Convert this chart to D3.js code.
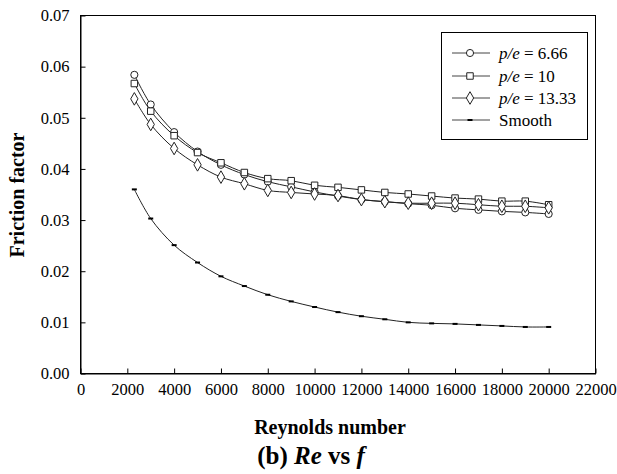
<!DOCTYPE html>
<html><head><meta charset="utf-8">
<script src="https://cdn.jsdelivr.net/npm/d3@7/dist/d3.min.js"></script>
<style>body{margin:0;background:#fff}svg{display:block}svg text{font-family:"Liberation Serif","Times New Roman",Times,serif !important;fill:#000}</style>
</head><body><svg id="c" width="617" height="474"></svg>
<script>
const reynolds = [2300,3000,4000,5000,6000,7000,8000,9000,10000,11000,12000,13000,14000,15000,16000,17000,18000,19000,20000];
const pe666  = [0.0584,0.0526,0.0472,0.0434,0.0408,0.0389,0.0375,0.0365,0.0355,0.0347,0.0340,0.0336,0.0332,0.0329,0.0323,0.0320,0.0317,0.0315,0.0312];
const pe10   = [0.0567,0.0513,0.0465,0.0432,0.0412,0.0393,0.0381,0.0377,0.0368,0.0364,0.0359,0.0354,0.0351,0.0347,0.0343,0.0341,0.0337,0.0337,0.0330];
const pe1333 = [0.0537,0.0487,0.0440,0.0408,0.0384,0.0371,0.0358,0.0354,0.0351,0.0348,0.0340,0.0336,0.0333,0.0333,0.0333,0.0330,0.0327,0.0327,0.0324];
const smooth = [0.0360,0.0303,0.0251,0.0217,0.0190,0.0171,0.0154,0.0141,0.0130,0.0120,0.0112,0.0106,0.0100,0.0098,0.0097,0.0095,0.0093,0.0091,0.0091];
const xTicks = [0,2000,4000,6000,8000,10000,12000,14000,16000,18000,20000,22000];
const yTicks = [0,0.01,0.02,0.03,0.04,0.05,0.06,0.07];
const seriesNames = ["6.66","10","13.33"];
const seriesMarkers = ["circle","square","diamond"];

const FONT = "'Liberation Serif','Times New Roman',Times,serif";
const svg = d3.select("#c");
const L=80.5, R=595.5, T=15.5, B=373.5;
const x = d3.scaleLinear().domain([0,22000]).range([L,R]);
const y = d3.scaleLinear().domain([0,0.07]).range([B,T]);

svg.append("rect").attr("x",L).attr("y",T).attr("width",R-L).attr("height",B-T)
  .attr("fill","none").attr("stroke","#000").attr("stroke-width",1);

const gx = svg.append("g").attr("transform",`translate(0,${B})`)
  .call(d3.axisBottom(x).tickValues(xTicks).tickSizeInner(-5).tickSizeOuter(0).tickPadding(12).tickFormat(d3.format("d")));
const gy = svg.append("g").attr("transform",`translate(${L},0)`)
  .call(d3.axisLeft(y).tickValues(yTicks).tickSizeInner(-5).tickSizeOuter(0).tickPadding(11).tickFormat(d3.format(".2f")));
[gx,gy].forEach(g=>{
  g.attr("font-family",FONT).attr("font-size",16.5);
  g.select(".domain").attr("stroke","#000");
  g.selectAll(".tick line").attr("stroke","#000");
  g.selectAll("text").style("font-family",FONT).style("font-size","16.5px");
});
gx.selectAll("text").attr("dy","0.55em");

const line = d3.line().x(d=>x(d[0])).y(d=>y(d[1])).curve(d3.curveCatmullRom.alpha(0.5));
const sym = {circle:d3.symbolCircle, square:d3.symbolSquare, diamond:d3.symbolDiamond};
const symSize = {circle:40, square:42, diamond:46};
function drawMarker(g, type, cx, cy){
  if(type==="dash"){
    g.append("rect").attr("x",cx-2.5).attr("y",cy-1).attr("width",5).attr("height",2).attr("fill","#000");
  } else {
    g.append("path").attr("d",d3.symbol().type(sym[type]).size(symSize[type])())
      .attr("transform",`translate(${cx},${cy})`).attr("fill","#fff").attr("stroke","#222").attr("stroke-width",1);
  }
}
const all = [pe666,pe10,pe1333];
all.forEach((vals)=>{
  const pts = reynolds.map((r,j)=>[r,vals[j]]);
  svg.append("path").attr("d",line(pts)).attr("fill","none").attr("stroke","#222").attr("stroke-width",1);
});
all.forEach((vals,i)=>{
  const g = svg.append("g");
  reynolds.forEach((r,j)=>drawMarker(g,seriesMarkers[i],x(r),y(vals[j])));
});
const spts = reynolds.map((r,j)=>[r,smooth[j]]);
svg.append("path").attr("d",line(spts)).attr("fill","none").attr("stroke","#222").attr("stroke-width",1);
const gs = svg.append("g");
reynolds.forEach((r,j)=>drawMarker(gs,"dash",x(r),y(smooth[j])));

// legend
const lg = svg.append("g");
lg.append("rect").attr("x",441.5).attr("y",32.5).attr("width",146).attr("height",107)
  .attr("fill","#fff").attr("stroke","#000").attr("stroke-width",1);
const ly = [53,76,98,120];
const types = ["circle","square","diamond","dash"];
ly.forEach((yy,i)=>{
  lg.append("line").attr("x1",452).attr("x2",490).attr("y1",yy).attr("y2",yy).attr("stroke","#444").attr("stroke-width",1);
  drawMarker(lg,types[i],470,yy);
  const t = lg.append("text").attr("x",499).attr("y",yy+5.5).style("font-family",FONT).style("font-size","17px");
  if(i<3){
    t.append("tspan").attr("font-style","italic").text("p/e");
    t.append("tspan").text(" = "+seriesNames[i]);
  } else t.text("Smooth");
});

svg.append("text").attr("x",330).attr("y",434).attr("text-anchor","middle")
  .style("font-family",FONT).style("font-size","20px").attr("font-weight","bold").text("Reynolds number");
svg.append("text").attr("transform","translate(24,195) rotate(-90)").attr("text-anchor","middle")
  .style("font-family",FONT).style("font-size","20px").attr("font-weight","bold").text("Friction factor");
const cap = svg.append("text").attr("x",311).attr("y",464).attr("text-anchor","middle")
  .style("font-family",FONT).style("font-size","25px").attr("font-weight","bold");
cap.append("tspan").text("(b) ");
cap.append("tspan").attr("font-style","italic").text("Re");
cap.append("tspan").text(" vs ");
cap.append("tspan").attr("font-style","italic").text("f");
</script></body></html>
